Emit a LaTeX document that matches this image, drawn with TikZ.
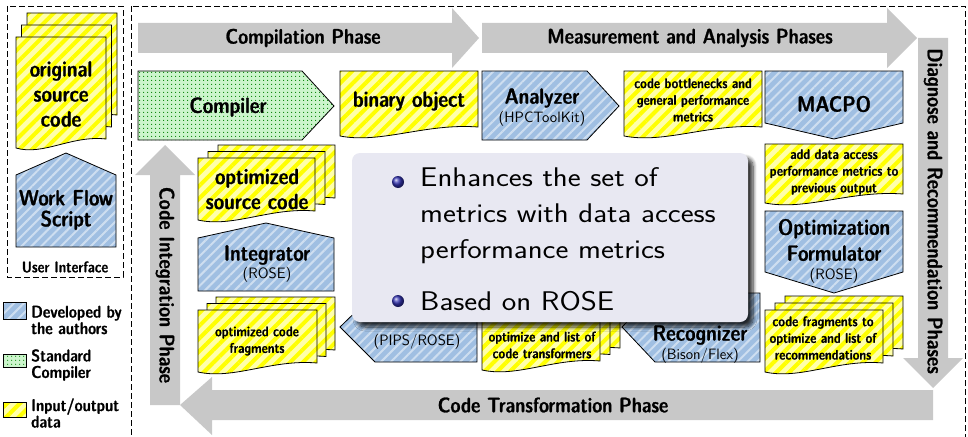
\documentclass[tikz,border=0pt]{standalone}
\usepackage{fontspec}
\newfontfamily\dc{lmsansdemicond10-regular}[Extension=.otf, FakeBold=1.2]
\usetikzlibrary{patterns.meta,shadows.blur}
\definecolor{bandgray}{RGB}{200,200,200}
\definecolor{ylw}{RGB}{255,255,0}
\definecolor{ylwpale}{RGB}{255,255,170}
\definecolor{bluebase}{RGB}{160,191,226}
\definecolor{bluestripe}{RGB}{206,222,240}
\definecolor{grnbase}{RGB}{204,245,204}
\definecolor{grndot}{RGB}{0,130,0}
\definecolor{blockbg}{RGB}{232,232,242}
\definecolor{ballc}{RGB}{51,51,179}
\newcommand\docp[4]{({#1},{#2}) -- ({#3},{#2}) -- ({#3},{(#4)-9}) .. controls ({(#1)+0.62*((#3)-(#1))},{(#4)-13}) and ({(#1)+0.3*((#3)-(#1))},{(#4)+8}) .. ({#1},{#4}) -- cycle}
\newcommand\docstack[6]{%
 \path[yel] \docp{(#1)+2*(#5)}{(#2)-2*(#6)}{(#3)+2*(#5)}{(#4)-2*(#6)};
 \path[yel] \docp{(#1)+(#5)}{(#2)-(#6)}{(#3)+(#5)}{(#4)-(#6)};
 \path[yel] \docp{#1}{#2}{#3}{#4};}
\tikzset{
 yel/.style={preaction={fill=ylwpale}, pattern={Lines[angle=45,distance=9pt,line width=4pt]}, pattern color=ylw, draw=black, line width=0.8pt},
 blu/.style={preaction={fill=bluebase}, pattern={Lines[angle=45,distance=7pt,line width=2pt]}, pattern color=bluestripe, draw=black, line width=0.8pt},
 grn/.style={preaction={fill=grnbase}, pattern={Dots[distance=4pt,radius=0.65pt]}, pattern color=grndot, draw=black, line width=0.8pt},
 band/.style={fill=bandgray, draw=none},
 dbox/.style={draw=black, line width=0.8pt, dash pattern=on 6pt off 3pt},
 bigtxt/.style={font=\dc\fontsize{22}{25}\selectfont, align=center, inner sep=0pt},
 smalltxt/.style={font=\dc\fontsize{14}{16.7}\selectfont, align=center, inner sep=0pt},
 subtxt/.style={font=\sffamily\fontsize{15}{16}\selectfont, inner sep=0pt},
 phase/.style={font=\dc\fontsize{21}{22}\selectfont, inner sep=0pt},
 legtxt/.style={font=\dc\fontsize{17}{16.5}\selectfont, align=left, anchor=west, inner sep=0pt},
 bodytxt/.style={font=\sffamily\fontsize{27}{36}\selectfont, align=left, anchor=north west, inner sep=0pt, xscale=1.14},
}
\begin{document}
\begin{tikzpicture}[x=1pt,y=-1pt]
\useasboundingbox (0,0) rectangle (968,436);
% dashed frames
\draw[dbox] (7,6) rectangle (123,277);
\draw[dbox] (131,6) rectangle (965,445);
% phase bands
\path[band] (138,23) -- (452,23) -- (452,8) -- (479,38) -- (452,68) -- (452,53) -- (138,53) -- cycle;
\path[band] (482,23) -- (887,23) -- (887,8) -- (917,38) -- (887,68) -- (887,53) -- (482,53) -- cycle;
\path[band] (918,38) -- (948,38) -- (948,358) -- (963,358) -- (933,388) -- (903,358) -- (918,358) -- cycle;
\path[band] (933,390) -- (933,420) -- (212,420) -- (212,435) -- (180,405) -- (212,377) -- (212,390) -- cycle;
\path[band] (150,405) -- (150,175) -- (135,175) -- (165,145) -- (195,175) -- (180,175) -- (180,405) -- cycle;
\node[phase] (p1) at (303,38) {Compilation Phase};
\node[phase] (p2) at (690,38) {Measurement and Analysis Phases};
\node[phase, rotate=-90] (p3) at (933,211) {Diagnose and Recommendation Phases};
\node[phase] (p4) at (553,405) {Code Transformation Phase};
\node[phase, rotate=-90] (p5) at (165,285) {Code Integration Phase};
% left panel
\docstack{16}{37}{106}{148}{5.5}{12}
\node[bigtxt] (osc) at (61,94) {original\\source\\code};
\path[blu] (16,247) -- (16,175) -- (66,153) -- (116,175) -- (116,247) -- cycle;
\node[bigtxt, font=\dc\fontsize{22}{21}\selectfont] (wfs) at (66,210) {Work Flow\\Script};
\node[font=\dc\fontsize{15.5}{15}\selectfont, inner sep=0pt] (ui) at (65,267) {User Interface};
% legend
\path[blu] (3,302) rectangle (26,319);
\node[legtxt] (l1) at (31,320) {Developed by\\the authors};
\path[grn] (3,354) rectangle (26,367);
\node[legtxt] (l2) at (31,365) {Standard\\Compiler};
\path[yel] (3,402) rectangle (26,417);
\node[legtxt] (l3) at (31,413) {Input/output\\data};
% top row
\path[grn] (138,71) -- (302,71) -- (334,106) -- (302,140) -- (138,140) -- cycle;
\node[bigtxt] (comp) at (228,107) {Compiler};
\path[yel] \docp{340}{71}{478}{136};
\node[bigtxt] (bin) at (409,101) {binary object};
\path[blu] (482,71) -- (587,71) -- (619,106) -- (587,140) -- (482,140) -- cycle;
\node[bigtxt] (ana) at (542,98) {Analyzer};
\node[subtxt] (anas) at (542,119) {(HPCToolKit)};
\path[yel] \docp{624}{71}{762}{136};
\node[smalltxt] (cb) at (693,100) {code bottlenecks and\\general performance\\metrics};
\path[blu] (765,71) -- (903,71) -- (903,123) -- (834,139) -- (765,123) -- cycle;
\node[bigtxt] (macpo) at (834,104) {MACPO};
% right column
\path[yel] \docp{765}{144}{903}{203};
\node[smalltxt] (ada) at (834,172) {add data access\\performance metrics to\\previous output};
\path[blu] (765,211) -- (903,211) -- (903,272) -- (834,293) -- (765,272) -- cycle;
\node[bigtxt, font=\dc\fontsize{22}{26}\selectfont] (of) at (834,240) {Optimization\\Formulator};
\node[subtxt] (ofs) at (834,276) {(ROSE)};
% bottom row
\docstack{765}{310}{883}{372}{10}{7}
\node[smalltxt] (cf) at (823,338) {code fragments to\\optimize and list of\\recommendations};
\path[blu] (760,293) -- (760,362) -- (655,362) -- (622,327) -- (655,293) -- cycle;
\node[bigtxt] (rec) at (700,335) {Recognizer};
\node[subtxt] (recs) at (700,356) {(Bison/Flex)};
\docstack{482}{310}{600}{370}{10}{6.5}
\node[smalltxt] (ol) at (542,345) {optimize and list of\\code transformers};
\path[blu] (477,293) -- (477,362) -- (375,362) -- (340,327) -- (375,293) -- cycle;
\node[subtxt] (trs) at (417,342) {(PIPS/ROSE)};
\docstack{198}{310}{317}{372}{9}{6.5}
\node[smalltxt] (ocf) at (257,341) {optimized code\\fragments};
% left column
\path[blu] (198,291) -- (198,238) -- (266,223) -- (334,238) -- (334,291) -- cycle;
\node[bigtxt] (integ) at (267,255) {Integrator};
\node[subtxt] (integs) at (267,275) {(ROSE)};
\docstack{198}{158}{315}{220}{10}{6.5}
\node[bigtxt] (osc2) at (257,189) {optimized\\source code};
% overlay block
\path[fill=blockbg, rounded corners=8pt, blur shadow={shadow xshift=5pt, shadow yshift=-5pt, shadow blur steps=8, shadow blur radius=4pt, shadow opacity=80}] (352,153) rectangle (748,322);
\shade[ball color=ballc] (398,182) circle (6pt);
\shade[ball color=ballc] (398,301) circle (6pt);
\node[bodytxt] (t1) at (420,167) {Enhances the set of\\metrics with data access\\performance metrics};
\node[bodytxt] (t2) at (420,291) {Based on ROSE};
\end{tikzpicture}
\end{document}
